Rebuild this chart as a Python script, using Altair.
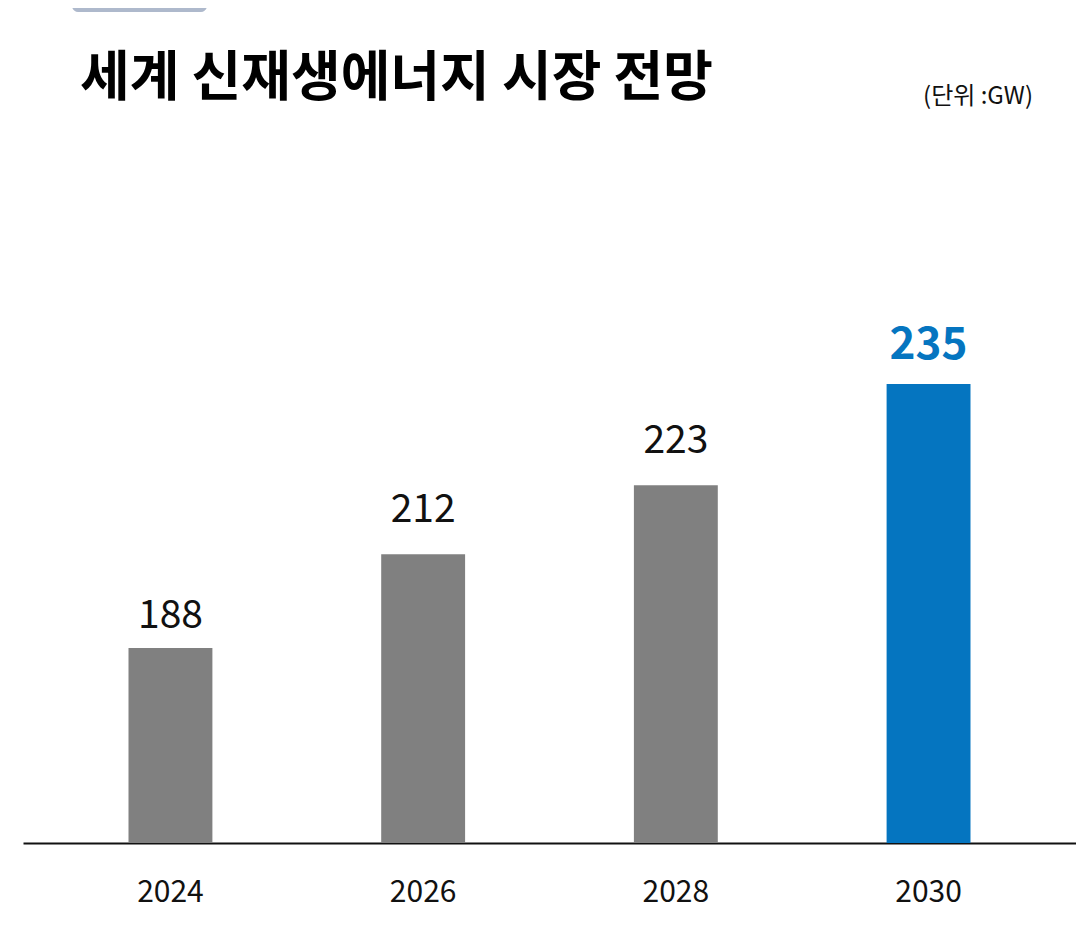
import altair as alt
import pandas as pd

# ---- data ----
years = ["2024", "2026", "2028", "2030"]
values = [188, 212, 223, 235]
highlight = [False, False, False, True]

title_text = "세계 신재생에너지 시장 전망"
unit_text = "(단위 :GW)"

df = pd.DataFrame({"year": years, "value": values, "hl": highlight})

W = 1053
H = 835
FONT = "Noto Sans CJK KR"

x = alt.X("year:N", sort=years,
          scale=alt.Scale(paddingInner=0.668, paddingOuter=0.4175),
          axis=alt.Axis(title=None, labelAngle=0, labelFontSize=30, labelFont=FONT,
                        labelColor="#111111", labelPadding=34, ticks=False,
                        domainColor="#111111", domainWidth=2.2, grid=False))
y = alt.Y("value:Q", stack=None,
          scale=alt.Scale(type="pow", exponent=6.8, domain=[-202, 262.3], nice=False, zero=False),
          axis=None)

base = alt.Chart(df)

bars = base.mark_bar().encode(
    x=x, y=y, y2=alt.value(H),
    color=alt.Color("hl:N", scale=alt.Scale(domain=[False, True], range=["#808080", "#0575C0"]), legend=None),
)

labels_first = base.transform_filter("datum.year == '2024'").mark_text(
    font=FONT, fontSize=39, color="#111111", baseline="alphabetic", dy=-20
).encode(x=x, y=y, text="value:Q")

labels_mid = base.transform_filter("!datum.hl && datum.year != '2024'").mark_text(
    font=FONT, fontSize=39, color="#111111", baseline="alphabetic", dy=-32
).encode(x=x, y=y, text="value:Q")

labels_blue = base.transform_filter("datum.hl").mark_text(
    font=FONT, fontSize=44, fontWeight="bold", color="#0575C0", baseline="alphabetic", dy=-25
).encode(x=x, y=y, text="value:Q")

one = pd.DataFrame({"t": [title_text], "u": [unit_text]})

title = alt.Chart(one).mark_text(
    font=FONT, fontSize=54, fontWeight="bold", color="#000000", align="left", baseline="middle"
).encode(x=alt.value(57), y=alt.value(72), text="t:N")

unit = alt.Chart(one).mark_text(
    font=FONT, fontSize=24, color="#111111", align="right", baseline="middle"
).encode(x=alt.value(1010), y=alt.value(89), text="u:N")

deco = alt.Chart(one).mark_rect(color="#AEB9CC", cornerRadius=6).encode(
    x=alt.value(49), x2=alt.value(184), y=alt.value(-10), y2=alt.value(4)
)

chart = alt.layer(bars, labels_first, labels_mid, labels_blue, title, unit, deco).properties(
    width=W, height=H,
    background="#ffffff",
    autosize=alt.AutoSizeParams(type="none"),
    padding={"left": 15, "top": 0, "right": 0, "bottom": 80},
).configure_view(stroke=None)

chart.save("out.html", embed_options={"renderer": "svg", "actions": False})
